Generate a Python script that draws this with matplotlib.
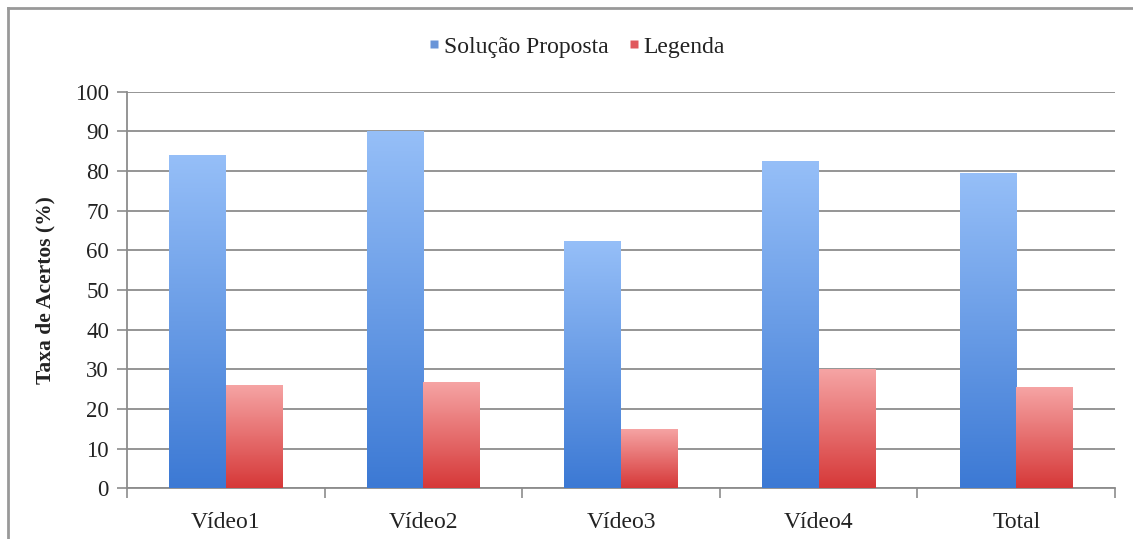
import numpy as np
import matplotlib
matplotlib.use("Agg")
import matplotlib.pyplot as plt
from matplotlib.colors import LinearSegmentedColormap
from matplotlib.lines import Line2D

categories = ["Vídeo1", "Vídeo2", "Vídeo3", "Vídeo4", "Total"]
proposta = [84.0, 90.2, 62.4, 82.5, 79.6]
legenda = [26.0, 26.8, 15.0, 30.0, 25.6]
series_names = ["Solução Proposta", "Legenda"]

plt.rcParams["font.family"] = ["Liberation Serif", "DejaVu Serif"]

BLUE = LinearSegmentedColormap.from_list("blue", ["#3c79d4", "#96bff8"])
RED = LinearSegmentedColormap.from_list("red", ["#d63838", "#f6a5a5"])

fig = plt.figure(figsize=(11.33, 5.39), dpi=100)
ax = fig.add_axes([127 / 1133, 0.094, (1115 - 127) / 1133, 0.736])

x = np.arange(len(categories))
w = 0.286
grad = np.linspace(0, 1, 256).reshape(-1, 1)


def gradient_bars(xs, vals, cmap):
    bars = ax.bar(xs, vals, width=w, color="none", edgecolor="none", zorder=3)
    for b in bars:
        x0, y0 = b.get_x(), b.get_y()
        im = ax.imshow(grad, cmap=cmap, origin="lower", aspect="auto",
                       extent=(x0, x0 + b.get_width(), y0, y0 + b.get_height()),
                       zorder=3)
        im.set_clip_path(b)
    return bars


gradient_bars(x - w / 2, proposta, BLUE)
gradient_bars(x + w / 2, legenda, RED)

ax.set_xlim(-0.5, len(categories) - 0.5)
ax.set_ylim(0, 100)
ax.set_yticks(range(0, 101, 10))
ax.yaxis.grid(True, color="#8c8c8c", linewidth=1.3, zorder=1)
ax.set_axisbelow(True)

# category separators as major ticks, labels on minor ticks
ax.set_xticks(np.arange(-0.5, len(categories), 1.0))
ax.set_xticklabels([])
ax.set_xticks(x, minor=True)
ax.set_xticklabels(categories, minor=True)
ax.tick_params(axis="x", which="major", length=7, color="#8c8c8c", width=1.2)
ax.tick_params(axis="x", which="minor", length=0, pad=17, labelsize=17,
               labelcolor="#222222")
ax.tick_params(axis="y", length=7, color="#8c8c8c", width=1.2, pad=6,
               labelsize=16.5, labelcolor="#222222")

for s in ("top", "right"):
    ax.spines[s].set_visible(False)
for s in ("left", "bottom"):
    ax.spines[s].set_color("#8c8c8c")
    ax.spines[s].set_linewidth(1.3)

ax.set_ylabel("Taxa de Acertos (%)", fontsize=15.5, fontweight="bold",
              color="#222222", labelpad=14)

handles = [
    Line2D([], [], marker="s", linestyle="none", markersize=6,
           markerfacecolor="#6a95d8", markeredgecolor="none"),
    Line2D([], [], marker="s", linestyle="none", markersize=6,
           markerfacecolor="#e0585c", markeredgecolor="none"),
]
fig.legend(handles, series_names, loc="center", bbox_to_anchor=(0.508, 0.913),
           ncol=2, frameon=False, fontsize=17, handletextpad=0.05,
           columnspacing=0.75, handlelength=0.7, labelcolor="#222222")

# chart frame (top and left edges)
fig.add_artist(Line2D([8 / 1133, 1.0], [1 - 8 / 539, 1 - 8 / 539],
                      transform=fig.transFigure, color="#999999", linewidth=2))
fig.add_artist(Line2D([8 / 1133, 8 / 1133], [0, 1 - 8 / 539],
                      transform=fig.transFigure, color="#999999", linewidth=2))

fig.savefig("out.png", dpi=100)
